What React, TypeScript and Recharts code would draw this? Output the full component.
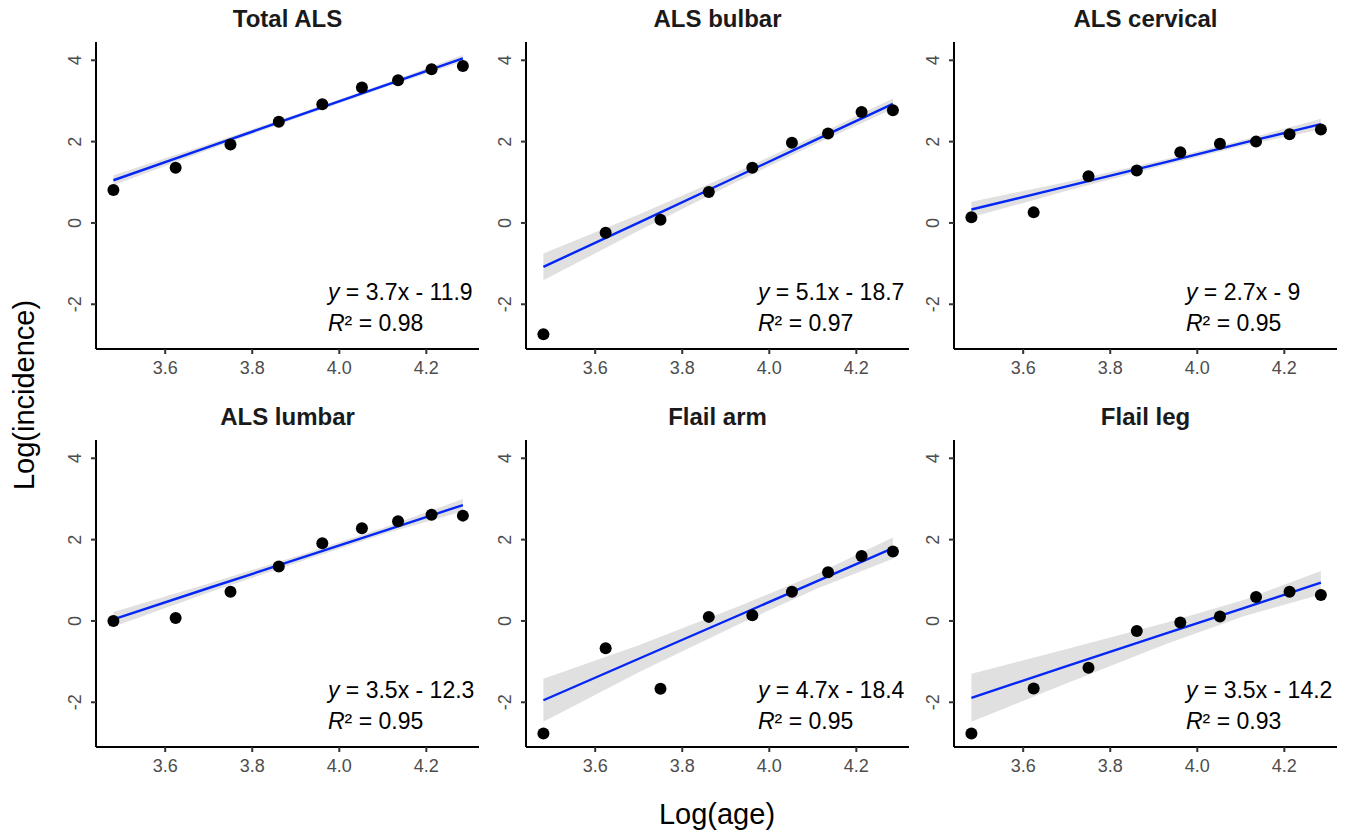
import React from 'react';
import { ComposedChart, Line, Area, Scatter, XAxis, YAxis } from 'recharts';

// log of age-group midpoints (shared by every panel)
const ageLog = [3.481, 3.624, 3.75, 3.861, 3.961, 4.052, 4.135, 4.212, 4.284];
// x positions where the fitted line and its confidence band were read
const fitX = [3.481, 3.7, 3.93, 4.11, 4.284];

const xTicks = [3.6, 3.8, 4.0, 4.2];
const yTicks = [-2, 0, 2, 4];

const titles = ['Total ALS', 'ALS bulbar', 'ALS cervical', 'ALS lumbar', 'Flail arm', 'Flail leg'];

// observed log(incidence)
const totalALS = [0.81, 1.36, 1.93, 2.49, 2.92, 3.33, 3.51, 3.78, 3.86];
const bulbar = [-2.74, -0.24, 0.08, 0.76, 1.36, 1.97, 2.2, 2.73, 2.77];
const cervical = [0.14, 0.26, 1.15, 1.29, 1.74, 1.95, 2.0, 2.18, 2.3];
const lumbar = [0.0, 0.07, 0.72, 1.34, 1.91, 2.28, 2.45, 2.61, 2.59];
const flailArm = [-2.77, -0.67, -1.67, 0.1, 0.14, 0.72, 1.2, 1.6, 1.71];
const flailLeg = [-2.77, -1.66, -1.15, -0.25, -0.04, 0.11, 0.59, 0.72, 0.64];

// fitted line at fitX
const totalFit = [1.05, 1.87, 2.73, 3.4, 4.05];
const bulbarFit = [-1.08, 0.01, 1.16, 2.06, 2.93];
const cervicalFit = [0.33, 0.9, 1.5, 1.98, 2.43];
const lumbarFit = [0.04, 0.81, 1.61, 2.24, 2.85];
const flailArmFit = [-1.95, -0.93, 0.14, 0.98, 1.79];
const flailLegFit = [-1.89, -1.11, -0.3, 0.33, 0.94];

// half width of the grey confidence band at fitX
const totalBand = [0.12, 0.07, 0.05, 0.05, 0.08];
const bulbarBand = [0.33, 0.2, 0.12, 0.1, 0.13];
const cervicalBand = [0.19, 0.11, 0.07, 0.07, 0.13];
const lumbarBand = [0.18, 0.11, 0.08, 0.08, 0.15];
const flailArmBand = [0.53, 0.33, 0.22, 0.18, 0.26];
const flailLegBand = [0.59, 0.42, 0.26, 0.2, 0.29];

const equations = ['3.7x - 11.9', '5.1x - 18.7', '2.7x - 9', '3.5x - 12.3', '4.7x - 18.4', '3.5x - 14.2'];
const r2Values = ['0.98', '0.97', '0.95', '0.95', '0.95', '0.93'];

const points = [totalALS, bulbar, cervical, lumbar, flailArm, flailLeg];
const fits = [totalFit, bulbarFit, cervicalFit, lumbarFit, flailArmFit, flailLegFit];
const bands = [totalBand, bulbarBand, cervicalBand, lumbarBand, flailArmBand, flailLegBand];

const FONT = '"Liberation Sans", Arial, Helvetica, sans-serif';
const plotLefts = [96, 526, 954];
const plotTops = [42, 440];
const PLOT_W = 383;
const PLOT_H = 307;
const Y_W = 70;

const YTick = (props: any) => {
    const { x, y, payload } = props;
    return (
        <text
            x={x}
            y={y}
            transform={`rotate(-90 ${x} ${y})`}
            textAnchor="middle"
            fontSize={18}
            fill="#4d4d4d"
            fontFamily={FONT}
        >
            {payload.value}
        </text>
    );
};

const Panel = ({ idx }: { idx: number }) => {
    const col = idx % 3;
    const row = Math.floor(idx / 3);
    const rows = fitX.map((x, i) => ({
        x,
        fit: fits[idx][i],
        band: [fits[idx][i] - bands[idx][i], fits[idx][i] + bands[idx][i]],
    }));
    const pts = ageLog.map((x, i) => ({ x, y: points[idx][i] }));
    const label = [{ x: 3.974, y: -1.9 }];

    return (
        <div style={{ position: 'absolute', left: plotLefts[col] - Y_W, top: plotTops[row] - 10 }}>
            <ComposedChart
                width={Y_W + PLOT_W + 10}
                height={10 + PLOT_H + 40}
                data={rows}
                margin={{ top: 10, right: 10, bottom: 0, left: 0 }}
            >
                <XAxis
                    dataKey="x"
                    type="number"
                    domain={[3.441, 4.321]}
                    allowDataOverflow
                    ticks={xTicks}
                    tickFormatter={(v: number) => v.toFixed(1)}
                    height={40}
                    axisLine={{ stroke: '#000', strokeWidth: 2 }}
                    tickLine={{ stroke: '#333', strokeWidth: 2 }}
                    tickSize={5}
                    tickMargin={7}
                    tick={{ fontSize: 18, fill: '#4d4d4d', fontFamily: FONT }}
                />
                <YAxis
                    type="number"
                    domain={[-3.1, 4.45]}
                    allowDataOverflow
                    ticks={yTicks}
                    width={Y_W}
                    axisLine={{ stroke: '#000', strokeWidth: 2 }}
                    tickLine={{ stroke: '#333', strokeWidth: 2 }}
                    tickSize={5}
                    tickMargin={10}
                    tick={<YTick />}
                />
                <Scatter
                    data={pts}
                    dataKey="y"
                    isAnimationActive={false}
                    shape={(p: any) => <circle cx={p.cx} cy={p.cy} r={6} fill="#000" />}
                />
                <Area
                    dataKey="band"
                    type="linear"
                    stroke="none"
                    fill="#999999"
                    fillOpacity={0.3}
                    isAnimationActive={false}
                />
                <Line
                    dataKey="fit"
                    type="linear"
                    stroke="#0527f5"
                    strokeWidth={2.4}
                    dot={false}
                    isAnimationActive={false}
                />
                <Scatter
                    data={label}
                    dataKey="y"
                    isAnimationActive={false}
                    shape={(p: any) => (
                        <text x={p.cx} y={p.cy} fontSize={23} fill="#000" fontFamily={FONT}>
                            <tspan fontStyle="italic">y</tspan>
                            <tspan>{` = ${equations[idx]}`}</tspan>
                            <tspan x={p.cx} dy={31} fontStyle="italic">R</tspan>
                            <tspan>{`² = ${r2Values[idx]}`}</tspan>
                        </text>
                    )}
                />
            </ComposedChart>
        </div>
    );
};

export default function App() {
    return (
        <div
            style={{
                position: 'absolute',
                left: 0,
                top: 0,
                width: 1346,
                height: 834,
                background: '#fff',
                fontFamily: FONT,
            }}
        >
            {titles.map((t, i) => (
                <Panel key={t} idx={i} />
            ))}
            <svg
                width={1346}
                height={834}
                style={{ position: 'absolute', left: 0, top: 0, pointerEvents: 'none' }}
            >
                {titles.map((t, i) => (
                    <text
                        key={t}
                        x={plotLefts[i % 3] + PLOT_W / 2}
                        y={plotTops[Math.floor(i / 3)] - 15}
                        textAnchor="middle"
                        fontSize={24}
                        fontWeight="bold"
                        fill="#1a1a1a"
                        fontFamily={FONT}
                    >
                        {t}
                    </text>
                ))}
                <text
                    transform="translate(34 395) rotate(-90)"
                    textAnchor="middle"
                    fontSize={29}
                    fill="#000"
                    fontFamily={FONT}
                >
                    Log(incidence)
                </text>
                <text x={717} y={824} textAnchor="middle" fontSize={29} fill="#000" fontFamily={FONT}>
                    Log(age)
                </text>
            </svg>
        </div>
    );
}
